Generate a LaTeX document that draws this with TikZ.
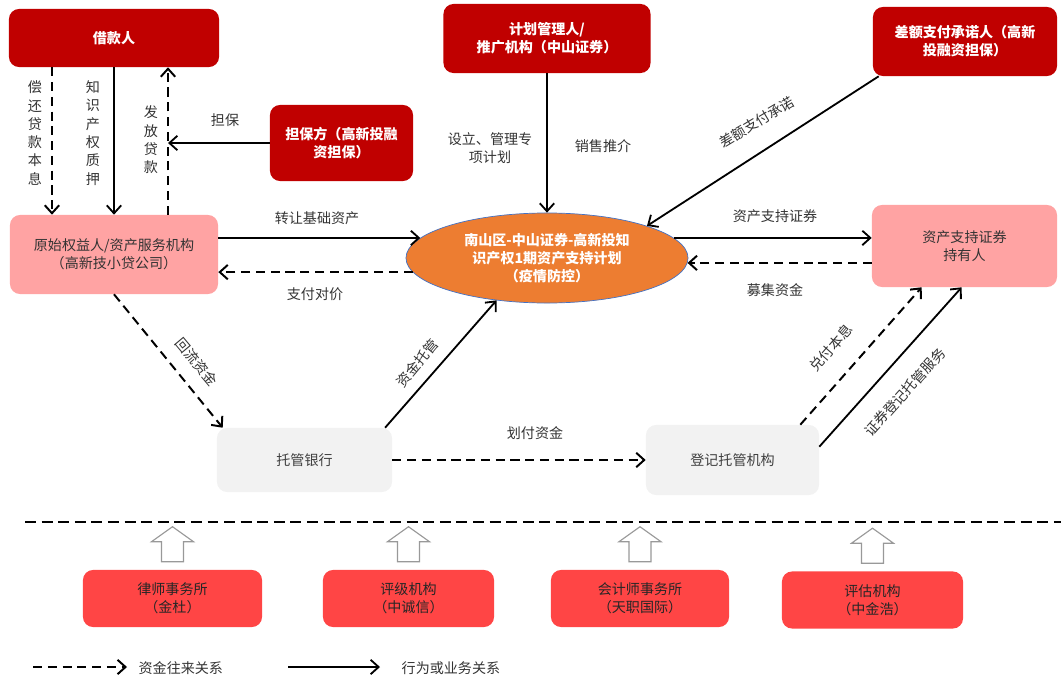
\documentclass[tikz,border=0pt]{standalone}
\usepackage{fontspec}
\setmainfont{Noto Sans CJK SC}
\usetikzlibrary{arrows.meta,shapes.geometric}
\definecolor{tiefrot}{HTML}{C00000}
\definecolor{rosa}{HTML}{FFA3A3}
\definecolor{hellgrau}{HTML}{F2F2F2}
\definecolor{planorange}{HTML}{ED7D31}
\definecolor{randblau}{HTML}{4472C4}
\definecolor{dienstrot}{HTML}{FF4545}
\begin{document}
\begin{tikzpicture}[x=0.025cm,y=-0.025cm,
  font=\fontsize{10}{13}\selectfont,
  >={Straight Barb[length=2mm,width=3.6mm]},
  kasten/.style={rounded corners=0.25cm,align=center,inner sep=2pt},
  chef/.style={kasten,fill=tiefrot,text=white,font=\fontsize{10}{13}\selectfont\bfseries},
  partner/.style={kasten,fill=rosa,text=black!80},
  verwahr/.style={kasten,fill=hellgrau,text=black!75},
  dienst/.style={kasten,fill=dienstrot,text=black!85},
  pfeil/.style={->,line width=1.3pt},
  geld/.style={->,line width=1.4pt,dash pattern=on 6.5pt off 4pt},
  trenn/.style={line width=1.8pt,dash pattern=on 7.8pt off 4pt},
  beschr/.style={text=black!80,align=center,inner sep=1pt},
  senkrecht/.style={beschr,text width=1em},
  hohl/.style={draw=black!40,line width=0.8pt,fill=white}]
\useasboundingbox (0,0) rectangle (1061,683);
% Beteiligte oben
\node[chef,minimum width=5.25cm,minimum height=1.45cm] (borrower) at (114,38) {借款人};
\node[chef,minimum width=5.175cm,minimum height=1.725cm] (manager) at (547,38.5) {计划管理人/\\推广机构（中山证券）};
\node[chef,minimum width=4.6cm,minimum height=1.725cm] (topup) at (965,41.5) {差额支付承诺人（高新\\投融资担保）};
\node[chef,minimum width=3.575cm,minimum height=1.9cm] (guarantor) at (341.5,143) {担保方（高新投融\\资担保）};
% Mitte
\node[partner,minimum width=5.2cm,minimum height=1.975cm] (originator) at (114,254.5) {原始权益人/资产服务机构\\（高新技小贷公司）};
\node[ellipse,fill=planorange,draw=randblau,line width=0.5pt,text=white,
  font=\fontsize{10}{13}\selectfont\bfseries,align=center,inner sep=0pt,
  minimum width=7.05cm,minimum height=2.25cm] (plan) at (547,258) {南山区-中山证券-高新投知\\识产权1期资产支持计划\\（疫情防控）};
\node[partner,minimum width=4.625cm,minimum height=2.05cm] (holder) at (964.5,246) {资产支持证券\\持有人};
\node[verwahr,minimum width=4.375cm,minimum height=1.6cm] (custodian) at (304.5,460) {托管银行};
\node[verwahr,minimum width=4.325cm,minimum height=1.75cm] (registrar) at (732.5,460) {登记托管机构};
% Dienstleister unten
\node[dienst,minimum width=4.475cm,minimum height=1.425cm] (lawfirm) at (172.5,598.5) {律师事务所\\（金杜）};
\node[dienst,minimum width=4.275cm,minimum height=1.425cm] (rating) at (408.5,598.5) {评级机构\\（中诚信）};
\node[dienst,minimum width=4.45cm,minimum height=1.425cm] (auditor) at (640,598.5) {会计师事务所\\（天职国际）};
\node[dienst,minimum width=4.525cm,minimum height=1.425cm] (appraiser) at (872.5,600) {评估机构\\（中金浩）};
% Kredit
\coordinate (repay) at ([xshift=-1.55cm]originator.north);
\coordinate (loan) at ([xshift=1.35cm]originator.north);
\draw[geld] (repay |- borrower.south) -- (repay);
\draw[pfeil] (borrower.south) -- (borrower.south |- originator.north);
\draw[geld] (loan) -- (loan |- borrower.south);
\draw[pfeil] (guarantor.west) -- (guarantor.west -| loan);
\node[senkrecht] (lblrepay) at (35,133) {偿\\还\\贷\\款\\本\\息};
\node[senkrecht] (lblpledge) at (93,133) {知\\识\\产\\权\\质\\押};
\node[senkrecht] (lblloan) at (151,140) {发\\放\\贷\\款};
\node[beschr] (lblguar) at (225,120) {担保};
% Plan
\draw[pfeil] (originator.east |- plan.171) -- (plan.171);
\draw[geld] (plan.186) -- (originator.east |- plan.186);
\draw[pfeil] (plan.9) -- (holder.west |- plan.9);
\draw[geld] (holder.west |- plan.358) -- (plan.358);
\draw[pfeil] (manager.south) -- (plan.north);
\draw[pfeil] ([xshift=0.15cm]topup.south west) -- (plan.north east);
\node[beschr] (lbltransfer) at (317,218) {转让基础资产};
\node[beschr] (lblprice) at (315,294) {支付对价};
\node[beschr] (lblabs) at (775,216) {资产支持证券};
\node[beschr] (lblraise) at (775,290) {募集资金};
\node[beschr] (lblsetup) at (490,148) {设立、管理专\\项计划};
\node[beschr] (lblsale) at (603,146) {销售推介};
\node[beschr,rotate=31] (lbltopup) at (757,122) {差额支付承诺};
% Verwahrung
\draw[geld] (originator.south) -- ([xshift=0.15cm]custodian.north west);
\draw[pfeil] ([xshift=-0.18cm]custodian.north east) -- (plan.220);
\draw[geld] (custodian.east) -- (registrar.west);
\draw[geld] ([xshift=-0.475cm]registrar.north east) -- ([xshift=1.25cm]holder.south west);
\draw[pfeil] ([yshift=-0.55cm]registrar.north east) -- ([xshift=2.25cm]holder.south west);
\node[beschr,rotate=-50] (lblback) at (197,362) {回流资金};
\node[beschr,rotate=50] (lblcustody) at (417,363) {资金托管};
\node[beschr] (lbltransfer2) at (535,433) {划付资金};
\node[beschr,rotate=49] (lblpay) at (831,348) {兑付本息};
\node[beschr,rotate=48] (lblregister) at (905,392) {证券登记托管服务};
% Trennlinie und Hohlpfeile
\coordinate (trennA) at (25,522);
\coordinate (trennB) at (1061,522);
\draw[trenn] (trennA) -- (trennB);
\foreach \b in {lawfirm,rating,auditor,appraiser}{
  \draw[hohl] (\b.north) ++(-11,-8) -- ++(0,-20) -- ++(-10,0) -- ++(21,-15)
    -- ++(21,15) -- ++(-10,0) -- ++(0,20) -- cycle;
}
% Legende
\coordinate (leg1) at (33,667);
\coordinate (leg2) at (127,667);
\coordinate (leg3) at (288,667);
\coordinate (leg4) at (380,667);
\draw[geld] (leg1) -- (leg2);
\draw[pfeil] (leg3) -- (leg4);
\node[beschr,anchor=west] (legmoney) at (137,668) {资金往来关系};
\node[beschr,anchor=west] (legbiz) at (400,668) {行为或业务关系};
\end{tikzpicture}
\end{document}
